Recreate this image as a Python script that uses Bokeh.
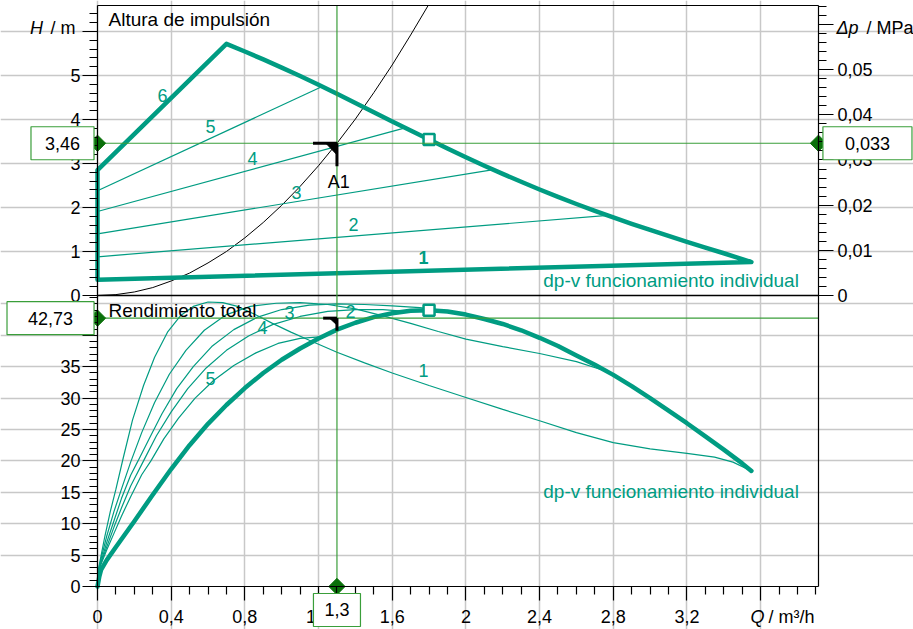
from bokeh.plotting import figure
from bokeh.models import Range1d, LinearAxis, FixedTicker, Label, Grid
from bokeh.embed import file_html
from bokeh.resources import INLINE

FONT = "Liberation Sans"
TEAL = "#009c82"
GREEN_LINE = "#3a9e3a"
GREEN_DARK = "#0a700a"
GRID = "#c8c8c8"

# ---------------- ranges (whole canvas mapped in data units) ----------------
X0, X1 = -0.5266, 4.4300          # Q at canvas left / right
Y0, Y1 = -7.591, 6.7045           # H at canvas bottom / top
E0, E1 = -6.847, 93.31            # efficiency % at canvas bottom / top
DP_PER_M = 0.00974                # MPa per m of head
Q_MAX = 3.914                     # right edge of the plot area
H_TOP = 6.591                     # top edge of the plot area (H units)
H_BOT = -6.614                    # bottom edge of the plot area (H units) = efficiency 0

Q_TICKS = [0.0, 0.4, 0.8, 1.2, 1.6, 2.0, 2.4, 2.8, 3.2, 3.6]
Q_TICK_LABELS = ["0", "0,4", "0,8", "1,2", "1,6", "2", "2,4", "2,8", "3,2", ""]
Q_MINOR = [0.1, 0.2, 0.3, 0.5, 0.6, 0.7, 0.9, 1.0, 1.1, 1.3, 1.4, 1.5, 1.7, 1.8, 1.9,
           2.1, 2.2, 2.3, 2.5, 2.6, 2.7, 2.9, 3.0, 3.1, 3.3, 3.4, 3.5, 3.7, 3.8, 3.9]
H_TICKS = [0.0, 1.0, 2.0, 3.0, 4.0, 5.0, 6.0]
H_TICK_LABELS = ["0", "1", "2", "3", "4", "5", ""]
H_MINOR = [0.2, 0.4, 0.6, 0.8, 1.2, 1.4, 1.6, 1.8, 2.2, 2.4, 2.6, 2.8, 3.2, 3.4, 3.6, 3.8,
           4.2, 4.4, 4.6, 4.8, 5.2, 5.4, 5.6, 5.8, 6.2, 6.4]
ETA_TICKS = [0.0, 5.0, 10.0, 15.0, 20.0, 25.0, 30.0, 35.0, 40.0, 45.0]
ETA_TICK_LABELS = ["0", "5", "10", "15", "20", "25", "30", "35", "", ""]
ETA_MINOR = [1, 2, 3, 4, 6, 7, 8, 9, 11, 12, 13, 14, 16, 17, 18, 19, 21, 22, 23, 24, 26, 27, 28, 29,
             31, 32, 33, 34, 36, 37, 38, 39, 41, 42, 43, 44, 46]
DP_TICKS = [0.0, 0.01, 0.02, 0.03, 0.04, 0.05, 0.06]
DP_TICK_LABELS = ["0", "0,01", "0,02", "0,03", "0,04", "0,05", ""]
DP_MINOR = [0.002, 0.004, 0.006, 0.008, 0.012, 0.014, 0.016, 0.018, 0.022, 0.024, 0.026, 0.028,
            0.032, 0.034, 0.036, 0.038, 0.042, 0.044, 0.046, 0.048, 0.052, 0.054, 0.056, 0.058,
            0.062, 0.064]

# ---------------- data: head curves (top panel) ----------------
env_q = [0, 0, 0.70, 0.8, 0.9, 1.0, 1.1, 1.2, 1.3, 1.4, 1.5, 1.6, 1.7, 1.8, 1.9, 2.0, 2.1, 2.2, 2.3,
         2.4, 2.5, 2.6, 2.7, 2.8, 2.9, 3.0, 3.1, 3.2, 3.3, 3.4, 3.5, 3.55, 0]
env_h = [0.36, 2.85, 5.72, 5.545, 5.365, 5.18, 4.99, 4.79, 4.585, 4.375, 4.165, 3.955, 3.75, 3.545,
         3.34, 3.14, 2.95, 2.765, 2.585, 2.41, 2.24, 2.08, 1.925, 1.775, 1.63, 1.49, 1.355, 1.22,
         1.09, 0.96, 0.825, 0.76, 0.36]
h2_q = [0, 2.77]; h2_h = [0.88, 1.82]
h3_q = [0, 2.15]; h3_h = [1.40, 2.86]
h4_q = [0, 1.67]; h4_h = [1.91, 3.81]
h5_q = [0, 1.22]; h5_h = [2.38, 4.75]
sys_q = [0, 0.1, 0.2, 0.3, 0.4, 0.5, 0.6, 0.7, 0.8, 0.9, 1.0, 1.1, 1.2, 1.3, 1.4, 1.5, 1.6, 1.7, 1.795]
sys_h = [0, 0.02, 0.08, 0.18, 0.33, 0.51, 0.74, 1.0, 1.31, 1.66, 2.05, 2.48, 2.95, 3.46, 4.01, 4.61, 5.24, 5.92, 6.59]

# ---------------- data: efficiency curves (bottom panel) ----------------
e6_q = [0, 0.01, 0.02, 0.05, 0.1, 0.2, 0.3, 0.4, 0.5, 0.6, 0.7, 0.8, 0.9, 1.0, 1.1, 1.2, 1.3, 1.4, 1.5,
        1.6, 1.7, 1.8, 1.9, 2.0, 2.1, 2.2, 2.3, 2.4, 2.5, 2.6, 2.7, 2.8, 2.9, 3.0, 3.1, 3.2, 3.3, 3.4, 3.5, 3.55]
e6_v = [0, 1.6, 2.7, 4.2, 6.3, 10.4, 14.6, 18.7, 22.5, 25.9, 28.9, 31.6, 34.0, 36.1, 37.9, 39.5, 40.9,
        42.0, 42.9, 43.5, 43.9, 44.0, 43.8, 43.3, 42.6, 41.8, 40.8, 39.6, 38.3, 36.8, 35.3, 33.7, 31.9,
        30.0, 28.0, 26.0, 23.9, 21.8, 19.6, 18.4]
e1_q = [0, 0.02, 0.04, 0.07, 0.1, 0.14, 0.19, 0.25, 0.31, 0.38, 0.45, 0.52, 0.6, 0.68, 0.76, 0.85, 0.95,
        1.05, 1.15, 1.3, 1.45, 1.6, 1.8, 2.0, 2.2, 2.4, 2.6, 2.8, 3.0, 3.2, 3.35, 3.45, 3.55]
e1_v = [2, 5, 8, 12, 15.5, 20.5, 26.5, 32, 36.5, 40.5, 43.1, 44.6, 45.3, 45.2, 44.6, 43.4, 41.9, 40.5, 39.2,
        37.3, 35.6, 34.0, 32.0, 30.1, 28.2, 26.4, 24.5, 22.9, 21.9, 21.2, 20.6, 19.8, 18.4]
e2_q = [0, 0.02, 0.05, 0.09, 0.13, 0.18, 0.24, 0.31, 0.39, 0.48, 0.58, 0.7, 0.83, 0.97, 1.1, 1.25, 1.4,
        1.55, 1.7, 1.85, 2.0, 2.2, 2.4, 2.6, 2.77]
e2_v = [2, 4.5, 8, 12, 15.5, 19.8, 24.5, 29.3, 33.8, 37.6, 40.8, 43.3, 44.6, 45.1, 45.2, 44.9, 44.2,
        43.1, 41.9, 40.6, 39.4, 38.2, 37.1, 35.8, 34.2]
e3_q = [0, 0.02, 0.05, 0.09, 0.13, 0.18, 0.22, 0.28, 0.35, 0.43, 0.52, 0.62, 0.74, 0.87, 1.0, 1.15, 1.3,
        1.45, 1.6, 1.75, 1.9, 2.05, 2.15]
e3_v = [2, 4, 7, 10.5, 14, 17.7, 20, 23.5, 27.5, 31.5, 35, 38.2, 40.9, 42.9, 44.1, 44.8, 45.0, 44.9,
        44.7, 44.4, 43.9, 43.0, 42.2]
e4_q = [0, 0.02, 0.05, 0.09, 0.13, 0.18, 0.25, 0.32, 0.4, 0.49, 0.59, 0.7, 0.82, 0.95, 1.1, 1.25, 1.4,
        1.55, 1.67]
e4_v = [2, 3.8, 6.3, 9.5, 12.5, 16, 20, 24, 27.8, 31.5, 34.8, 37.6, 39.9, 41.7, 43.0, 43.8, 44.1, 44.1, 43.8]
e5_q = [0, 0.02, 0.05, 0.09, 0.13, 0.18, 0.24, 0.29, 0.36, 0.44, 0.53, 0.63, 0.74, 0.86, 0.98, 1.1, 1.22]
e5_v = [2, 3.6, 5.8, 8.5, 11.2, 14.3, 17.8, 20, 23.5, 26.8, 30, 32.8, 35.2, 37.2, 38.7, 39.5, 39.8]

# operating point / readouts
OP_Q = 1.3
OP_H = 3.46
OP_DP_TEXT = "0,033"
OP_ETA = 42.73
BEP_Q = 1.8
BEP_H = 3.545
BEP_ETA = 44.0

top_labels = [("6", 0.353, 4.55, "normal"), ("5", 0.613, 3.84, "normal"), ("4", 0.841, 3.11, "normal"),
              ("3", 1.08, 2.34, "normal"), ("2", 1.39, 1.61, "normal"), ("1", 1.77, 0.86, "bold")]
bot_labels = [("1", 1.77, 34.4), ("2", 1.374, 43.8), ("3", 1.042, 43.6), ("4", 0.896, 41.2), ("5", 0.614, 33.1)]


def h_of_eta(e):
    return Y0 + (e - E0) * (Y1 - Y0) / (E1 - E0)


p = figure(width=913, height=629, output_backend="svg", toolbar_location=None,
           x_range=Range1d(X0, X1), y_range=Range1d(Y0, Y1),
           x_axis_type=None, y_axis_type=None,
           min_border=0, min_border_left=0, min_border_right=0, min_border_top=0, min_border_bottom=0)
p.extra_y_ranges = {"eta": Range1d(E0, E1), "dp": Range1d(Y0 * DP_PER_M, Y1 * DP_PER_M)}
p.outline_line_color = None
p.background_fill_color = "white"
p.border_fill_color = "white"

# grids, limited to the plot area
ygrid_ticks = [t for t in H_TICKS if t > 0] + [h_of_eta(e) for e in ETA_TICKS if e > 0]
p.add_layout(Grid(dimension=0, ticker=FixedTicker(ticks=Q_TICKS), bounds=(H_BOT, H_TOP),
                  grid_line_color=GRID, grid_line_width=1.5))
p.add_layout(Grid(dimension=1, ticker=FixedTicker(ticks=ygrid_ticks), bounds=(0, Q_MAX),
                  grid_line_color=GRID, grid_line_width=1.5))


def style_axis(ax, major_out, minor_out, standoff, size="18px"):
    ax.axis_line_color = "black"
    ax.axis_line_width = 1.2
    ax.major_tick_line_color = "black"
    ax.minor_tick_line_color = "black"
    ax.major_tick_line_width = 1.2
    ax.minor_tick_line_width = 1.2
    ax.major_tick_in = 0
    ax.minor_tick_in = 0
    ax.major_tick_out = major_out
    ax.minor_tick_out = minor_out
    ax.major_label_standoff = standoff
    ax.major_label_text_font = FONT
    ax.major_label_text_font_size = size
    ax.major_label_text_color = "black"


xaxis = LinearAxis(ticker=FixedTicker(ticks=Q_TICKS, minor_ticks=Q_MINOR),
                   major_label_overrides=dict(zip(Q_TICKS, Q_TICK_LABELS)),
                   fixed_location=H_BOT, bounds=(0, Q_MAX))
style_axis(xaxis, 14, 8, 9)
p.add_layout(xaxis, "below")

left_ticks = H_TICKS + [h_of_eta(e) for e in ETA_TICKS]
left_labels = H_TICK_LABELS + ETA_TICK_LABELS
left_minor = H_MINOR + [h_of_eta(e) for e in ETA_MINOR]
yaxis = LinearAxis(ticker=FixedTicker(ticks=left_ticks, minor_ticks=left_minor),
                   major_label_overrides=dict(zip(left_ticks, left_labels)),
                   fixed_location=0, bounds=(H_BOT, H_TOP))
style_axis(yaxis, 15, 8, 2)
p.add_layout(yaxis, "left")

raxis = LinearAxis(y_range_name="dp", ticker=FixedTicker(ticks=DP_TICKS, minor_ticks=DP_MINOR),
                   major_label_overrides=dict(zip(DP_TICKS, DP_TICK_LABELS)),
                   fixed_location=Q_MAX, bounds=(H_BOT * DP_PER_M, H_TOP * DP_PER_M))
style_axis(raxis, 15, 8, 4)
p.add_layout(raxis, "right")

taxis = LinearAxis(ticker=FixedTicker(ticks=[]), fixed_location=H_TOP, bounds=(0, Q_MAX))
style_axis(taxis, 0, 0, 0)
p.add_layout(taxis, "above")

# panel divider at H = 0
p.line([0, Q_MAX], [0, 0], line_color="black", line_width=1.5)

# ---------------- top panel: head curves ----------------
p.line(sys_q, sys_h, line_color="black", line_width=1)
for qq, hh in [(h2_q, h2_h), (h3_q, h3_h), (h4_q, h4_h), (h5_q, h5_h)]:
    p.line(qq, hh, line_color=TEAL, line_width=1.2)
p.line(env_q, env_h, line_color=TEAL, line_width=4.5, line_join="round", line_cap="round")

# ---------------- bottom panel: efficiency curves ----------------
for qq, vv in [(e1_q, e1_v), (e2_q, e2_v), (e3_q, e3_v), (e4_q, e4_v), (e5_q, e5_v)]:
    p.line(qq, vv, y_range_name="eta", line_color=TEAL, line_width=1.2)
p.line(e6_q, e6_v, y_range_name="eta", line_color=TEAL, line_width=4.5, line_join="round", line_cap="round")

p.scatter([BEP_Q], [BEP_H], marker="square", size=11, fill_color="white", line_color=TEAL, line_width=2.5)
p.scatter([BEP_Q], [BEP_ETA], y_range_name="eta", marker="square", size=11, fill_color="white",
          line_color=TEAL, line_width=2.5)

# operating point crosshair
p.line([OP_Q, OP_Q], [H_BOT, H_TOP], line_color=GREEN_LINE, line_width=1.2)
p.line([0, Q_MAX], [OP_H, OP_H], line_color=GREEN_LINE, line_width=1.2)
p.line([0, Q_MAX], [OP_ETA, OP_ETA], y_range_name="eta", line_color=GREEN_LINE, line_width=1.2)

# A1 symbol (top) and counterpart (bottom)
p.line([OP_Q - 0.13, OP_Q], [OP_H, OP_H], line_color="black", line_width=3)
p.line([OP_Q, OP_Q], [OP_H, OP_H - 0.52], line_color="black", line_width=3)
p.patch([OP_Q - 0.06, OP_Q, OP_Q], [OP_H, OP_H, OP_H - 0.26], color="black")
p.line([OP_Q - 0.075, OP_Q], [OP_ETA, OP_ETA], y_range_name="eta", line_color="black", line_width=3)
p.line([OP_Q, OP_Q], [OP_ETA, OP_ETA - 2.0], y_range_name="eta", line_color="black", line_width=3)
p.patch([OP_Q - 0.04, OP_Q, OP_Q], [OP_ETA, OP_ETA, OP_ETA - 1.1], y_range_name="eta", color="black")


def lab(text, x, y, rng=None, size="19px", color="black", align="left", style="normal", **kw):
    args = dict(x=x, y=y, text=text, text_font=FONT, text_font_size=size, text_color=color,
                text_align=align, text_baseline="middle", text_font_style=style)
    if rng:
        args["y_range_name"] = rng
    args.update(kw)
    p.add_layout(Label(**args))


lab("A1", OP_Q + 0.01, 2.59, size="18px", align="center")
lab("Altura de impulsión", 0.06, 6.27)
lab("Rendimiento total", 0.06, 43.95, rng="eta")
lab("dp-v funcionamiento individual", 2.42, 0.34, color=TEAL)
lab("dp-v funcionamiento individual", 2.42, 15.1, rng="eta", color=TEAL)
for t, x, y, st in top_labels:
    lab(t, x, y, size="18px", color=TEAL, align="center", style=st)
for t, x, y in bot_labels:
    lab(t, x, y, rng="eta", size="18px", color=TEAL, align="center")

# axis titles
lab("H", -0.331, 6.09, size="18px", align="center", style="italic")
lab("/ m", -0.255, 6.09, size="18px")
lab("Δp", 4.012, 6.09, size="18px", style="italic")
lab("/ MPa", 4.175, 6.09, size="18px")
lab("Q", 3.583, -4.78, rng="eta", size="18px", align="center", style="italic")
lab("/ m³/h", 3.643, -4.78, rng="eta", size="18px")

# readout boxes
box = dict(background_fill_color="white", border_line_color=GREEN_LINE, border_line_width=1.2)
lab("3,46", -0.19, OP_H, size="18px", align="center",
    padding=dict(left=14, right=14, top=10, bottom=10), **box)
lab(OP_DP_TEXT, 4.18, OP_H, size="18px", align="center",
    padding=dict(left=22, right=22, top=10, bottom=10), **box)
lab("42,73", -0.255, OP_ETA, rng="eta", size="18px", align="center",
    padding=dict(left=21, right=21, top=10, bottom=10), **box)
lab("1,3", OP_Q, -3.74, rng="eta", size="18px", align="center",
    padding=dict(left=11, right=11, top=10, bottom=10), **box)

# diamond markers on the axes
p.scatter([0, Q_MAX], [OP_H, OP_H], marker="square", angle=0.785, size=11.5,
          fill_color=GREEN_DARK, line_color=GREEN_DARK)
p.scatter([0, OP_Q], [OP_ETA, 0], y_range_name="eta", marker="square", angle=0.785, size=11.5,
          fill_color=GREEN_DARK, line_color=GREEN_DARK)

open("out.html", "w").write(file_html(p, INLINE))
